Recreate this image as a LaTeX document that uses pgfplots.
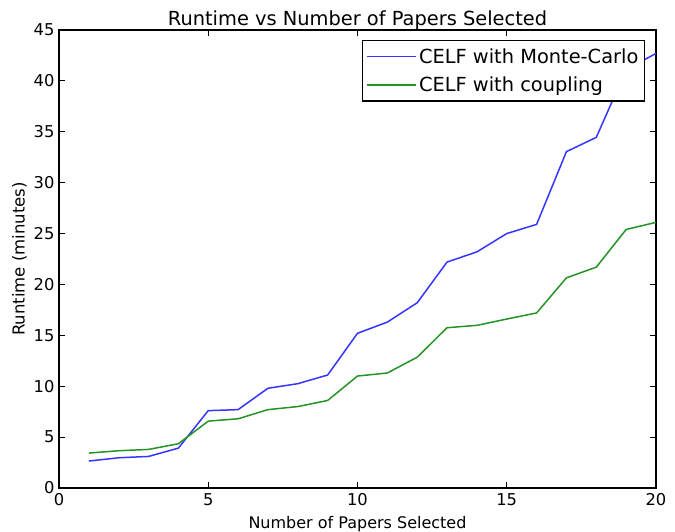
\documentclass[border=0pt]{standalone}
\usepackage{fontspec}
\setmainfont{DejaVu Sans}
\usepackage{pgfplots}
\pgfplotsset{compat=1.18}
\definecolor{mplblue}{HTML}{3535FF}
\definecolor{mplgreen}{HTML}{259325}

\begin{document}
\begin{tikzpicture}
\begin{axis}[
  name=ax,
  scale only axis,
  width=597pt, height=458pt,
  xmin=0, xmax=20, ymin=0, ymax=45,
  xtick={0,5,...,20}, ytick={0,5,...,45},
  tick align=inside, major tick length=6pt,
  tick style={black, line width=0.8pt},
  axis line style={black, line width=1.2pt},
  tick label style={font=\fontsize{16.3}{19}\selectfont},
  /pgf/number format/assume math mode=true,
  xticklabel style={yshift=-2pt},
  yticklabel style={xshift=-1pt},
  title={Runtime vs Number of Papers Selected},
  title style={font=\fontsize{19.4}{23}\selectfont, at={(axis description cs:0.5,1.0)}, anchor=base, yshift=-2pt},
  xlabel={Number of Papers Selected},
  xlabel style={font=\fontsize{16}{19}\selectfont, at={(axis description cs:0.5,-0.089)}, anchor=base},
  ylabel={Runtime (minutes)},
  ylabel style={font=\fontsize{16.5}{19}\selectfont, at={(axis description cs:-0.0575,0.5)}, anchor=base},
  legend style={at={(axis description cs:1,1)}, anchor=north east, xshift=-11pt, yshift=-10pt,
    draw=black, line width=1.2pt, font=\fontsize{19.4}{23}\selectfont,
    inner xsep=4pt, inner ysep=6pt, row sep=8pt},
  legend cell align=left,
  legend image code/.code={\draw[#1, line width=1.6pt] (0pt,0.4pt) -- (28pt,0.4pt);
    \path (-5pt,0pt) -- (44pt,0pt);},
]
\addplot[mplblue, line width=1.5pt] coordinates {
  (1,2.65) (2,2.97) (3,3.1) (4,3.92) (5,7.6) (6,7.7) (7,9.8) (8,10.25) (9,11.1) (10,15.2)
  (11,16.3) (12,18.2) (13,22.2) (14,23.2) (15,25.0) (16,25.9) (17,33.05) (18,34.45) (19,41.1) (20,42.7)};
\addlegendentry{CELF with Monte-Carlo}
\addplot[mplgreen, line width=1.5pt] coordinates {
  (1,3.43) (2,3.66) (3,3.79) (4,4.35) (5,6.57) (6,6.8) (7,7.7) (8,8.0) (9,8.6) (10,11.0)
  (11,11.3) (12,12.85) (13,15.75) (14,15.98) (15,16.6) (16,17.2) (17,20.65) (18,21.7) (19,25.4) (20,26.1)};
\addlegendentry{CELF with coupling}
\end{axis}
\pgfresetboundingbox
\path[use as bounding box] ([xshift=-59pt,yshift=-43pt]ax.south west) rectangle ([xshift=19pt,yshift=30pt]ax.north east);
\end{tikzpicture}
\end{document}
